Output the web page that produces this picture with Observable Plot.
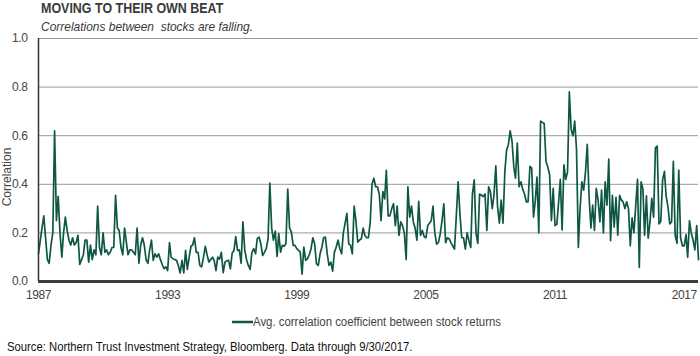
<!DOCTYPE html>
<html><head><meta charset="utf-8">
<script src="https://cdn.jsdelivr.net/npm/d3@7"></script>
<script src="https://cdn.jsdelivr.net/npm/@observablehq/plot@0.6"></script>
<style>
body{margin:0;background:#fff;}
#wrap{position:relative;width:700px;height:356px;overflow:hidden;font-family:"Liberation Sans",Arial,sans-serif;color:#333;background:#fff;}
.sq{display:inline-block;transform-origin:0 50%;white-space:pre;}
#title{position:absolute;left:41px;top:0;font:bold 14px/16px "Liberation Sans",Arial,sans-serif;color:#3a3a3a;transform:scaleX(0.89);}
#subtitle{position:absolute;left:41px;top:19px;font:italic 13px/15px "Liberation Sans",Arial,sans-serif;color:#3a3a3a;transform:scaleX(0.92);}
#ylabel{position:absolute;left:1px;top:170px;width:12px;height:14px;}
#ylabel span{position:absolute;left:50%;top:50%;transform:translate(-50%,-50%) rotate(-90deg);font:12px "Liberation Sans",Arial,sans-serif;color:#444;white-space:pre;}
#chart{position:absolute;left:0;top:32px;}
#swatch{position:absolute;left:232px;top:319px;}
#legend{position:absolute;left:253px;top:314px;font:12px/16px "Liberation Sans",Arial,sans-serif;color:#444;transform:scaleX(0.95);}
#caption{position:absolute;left:7px;top:339px;font:12px/16px "Liberation Sans",Arial,sans-serif;color:#111;transform:scaleX(0.94);}
</style>
</head><body>
<div id="wrap">
  <div id="chart"></div>
  <div id="title" class="sq"></div>
  <div id="subtitle" class="sq"></div>
  <div id="ylabel"><span></span></div>
  <div id="swatch"></div>
  <div id="legend" class="sq"></div>
  <div id="caption" class="sq"></div>
</div>
<script>
// Monthly average correlation coefficient between stock returns, Jan 1987 - Sep 2017
const corr1987_1992 = [
  0.115,0.17,0.22,0.27,0.18,0.09,0.075,0.15,0.2,0.62,
  0.25,0.35,0.2,0.10,0.2,0.265,0.21,0.17,0.15,0.18,
  0.15,0.16,0.19,0.07,0.09,0.11,0.17,0.17,0.08,0.15,
  0.09,0.13,0.11,0.31,0.14,0.11,0.20,0.12,0.13,0.11,
  0.12,0.14,0.14,0.355,0.22,0.21,0.14,0.11,0.22,0.16,
  0.11,0.13,0.13,0.12,0.11,0.22,0.075,0.15,0.18,0.15,
  0.09,0.075,0.13,0.17,0.087,0.114,0.10,0.114,0.09,0.07,
  0.053,0.06
];
const corr1993_1998 = [
  0.045,0.16,0.10,0.094,0.09,0.087,0.066,0.035,
  0.087,0.035,0.128,0.05,0.10,0.145,0.15,0.18,0.12,0.12,
  0.066,0.06,0.10,0.145,0.11,0.08,0.09,0.10,0.087,0.045,
  0.10,0.092,0.12,0.036,0.08,0.085,0.087,0.052,0.117,0.128,
  0.185,0.128,0.13,0.075,0.245,0.13,0.09,0.066,0.05,0.12,
  0.135,0.114,0.176,0.183,0.155,0.107,0.12,0.135,0.176,0.405,
  0.22,0.17,0.207,0.103,0.197,0.121,0.149,0.145,0.155,0.38,
  0.22,0.204
];
const corr1999_2004 = [
  0.149,0.149,0.135,0.128,0.121,0.03,0.142,0.087,
  0.093,0.11,0.135,0.18,0.155,0.073,0.066,0.114,0.14,0.18,
  0.183,0.114,0.066,0.08,0.043,0.121,0.142,0.17,0.135,0.114,
  0.2,0.24,0.28,0.155,0.149,0.114,0.31,0.25,0.162,0.17,
  0.176,0.22,0.19,0.18,0.18,0.245,0.40,0.425,0.39,0.39,
  0.36,0.25,0.37,0.34,0.457,0.27,0.27,0.3,0.32,0.23,
  0.31,0.19,0.245,0.23,0.2,0.09,0.39,0.265,0.31,0.245,
  0.22,0.17
];
const corr2005_2010 = [
  0.33,0.19,0.21,0.185,0.18,0.23,0.24,0.25,
  0.31,0.2,0.154,0.16,0.196,0.25,0.32,0.16,0.18,0.175,
  0.16,0.147,0.133,0.27,0.41,0.28,0.18,0.18,0.133,0.2,
  0.168,0.14,0.36,0.418,0.2,0.157,0.36,0.355,0.35,0.36,
  0.21,0.39,0.37,0.3,0.355,0.476,0.307,0.24,0.335,0.24,
  0.45,0.54,0.564,0.62,0.578,0.47,0.425,0.57,0.39,0.41,
  0.38,0.36,0.328,0.328,0.474,0.467,0.265,0.335,0.43,0.2,
  0.66,0.655
];
const corr2011_2017 = [
  0.65,0.494,0.47,0.44,0.25,0.383,0.23,0.235,
  0.32,0.42,0.212,0.48,0.42,0.45,0.78,0.626,0.6,0.66,
  0.543,0.14,0.3,0.41,0.376,0.45,0.564,0.35,0.22,0.314,
  0.21,0.383,0.335,0.245,0.376,0.2,0.41,0.314,0.504,0.168,
  0.355,0.224,0.346,0.19,0.355,0.335,0.328,0.3,0.328,0.3,
  0.147,0.262,0.2,0.31,0.42,0.058,0.41,0.38,0.19,0.352,
  0.178,0.245,0.342,0.265,0.55,0.557,0.237,0.248,0.418,0.453,
  0.35,0.307,0.237,0.245,0.494,0.19,0.157,0.458,0.18,0.147,
  0.147,0.193,0.1,0.25,0.2,0.17,0.13,0.23,0.09
];
const firstYear = 1987;
const tickYears = [1987, 1993, 1999, 2005, 2011, 2017];
const yTicks = [0, 0.2, 0.4, 0.6, 0.8, 1.0];
const seriesName = "Avg. correlation coefficient between stock returns";
const titleText = "MOVING TO THEIR OWN BEAT";
const subtitleText = "Correlations between  stocks are falling.";
const captionText = "Source: Northern Trust Investment Strategy, Bloomberg. Data through 9/30/2017.";
const yLabel = "Correlation";

const values = [].concat(corr1987_1992, corr1993_1998, corr1999_2004, corr2005_2010, corr2011_2017);
const start = new Date(Date.UTC(firstYear, 0, 1));
const data = values.map((v, i) => ({date: d3.utcMonth.offset(start, i), value: v}));
const tickDates = tickYears.map(y => new Date(Date.UTC(y, 0, 1)));

const green = "#0e5744";
const font = "'Liberation Sans',Arial,sans-serif";

document.getElementById("title").textContent = titleText;
document.getElementById("subtitle").textContent = subtitleText;
document.getElementById("caption").textContent = captionText;
document.querySelector("#ylabel span").textContent = yLabel;
document.getElementById("swatch").innerHTML =
  `<svg width="21" height="6" style="display:block"><line x1="0" x2="21" y1="3" y2="3" stroke="${green}" stroke-width="2.5"/></svg>`;
document.getElementById("legend").textContent = seriesName;

const chart = Plot.plot({
  width: 700,
  height: 275,
  marginTop: 6,
  marginLeft: 38,
  marginRight: 2,
  marginBottom: 26,
  style: {fontFamily: font, fontSize: "12px", color: "#444", background: "transparent", letterSpacing: "-0.4px"},
  x: {type: "utc", domain: [data[0].date, data[data.length - 1].date]},
  y: {domain: [0, 1]},
  marks: [
    Plot.gridY(yTicks.slice(1), {stroke: "#9a9a9a", strokeOpacity: 1, strokeWidth: 1}),
    Plot.axisY(yTicks, {tickSize: 0, tickPadding: 11, tickFormat: d3.format(".1f"), label: null, fontSize: 12}),
    Plot.axisX(tickDates, {tickSize: 0, tickPadding: 9, tickFormat: d => String(d.getUTCFullYear()), label: null, fontSize: 12}),
    Plot.line(data, {x: "date", y: "value", stroke: green, strokeWidth: 1.7}),
    Plot.ruleX([data[0].date], {stroke: "#333", strokeWidth: 1.5}),
    Plot.ruleY([0], {stroke: "#3c3c3c", strokeWidth: 3})
  ]
});
document.getElementById("chart").appendChild(chart);
</script>
</body></html>
